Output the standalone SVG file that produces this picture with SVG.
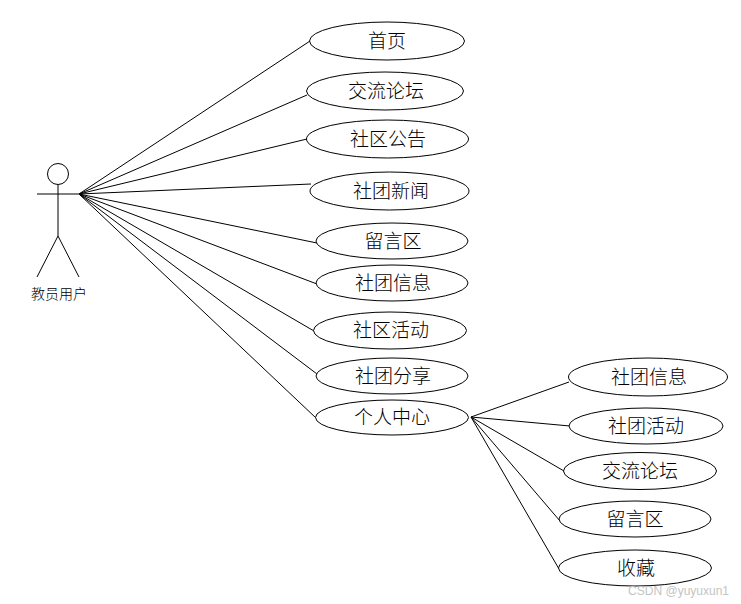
<svg xmlns="http://www.w3.org/2000/svg" width="741" height="604" viewBox="0 0 741 604">
<style>
.s{fill:none;stroke:#000;stroke-width:1}
.e{fill:#fff;stroke:#000;stroke-width:1}
.t{font-family:"Noto Sans CJK SC","Liberation Serif",serif;font-size:19px;font-weight:300;fill:#000;text-anchor:middle}
.a{font-size:14px}
.w{font-family:"Liberation Sans",sans-serif;font-size:12px;fill:#c4c4c4;text-anchor:end}
</style>
<rect width="741" height="604" fill="#fff"/>
<g id="connectors" class="s">
<path d="M79 194L310 41M79 194L307 95M79 194L307 139M79 194L311 184M79 194L317 243M79 194L317 284M79 194L314 331M79 194L317 374M79 194L316 418"/>
<path d="M471 417L569 382M471 417L570 426M471 417L564 471M471 417L560 521M471 417L559 569"/>
</g>
<g id="actor">
<g class="s"><circle cx="58" cy="174" r="10.5"/>
<path d="M58 185V236M37 194H79M58 236L37 277M58 236L79 277"/></g>
<text class="t a" x="59" y="299">教员用户</text>
</g>
<g id="n1"><ellipse class="e" cx="387" cy="41" rx="77.5" ry="19"/><text class="t" x="387" y="48">首页</text></g>
<g id="n2"><ellipse class="e" cx="385" cy="91" rx="78.5" ry="19"/><text class="t" x="386" y="98">交流论坛</text></g>
<g id="n3"><ellipse class="e" cx="387.5" cy="139" rx="81" ry="19"/><text class="t" x="388" y="146">社区公告</text></g>
<g id="n4"><ellipse class="e" cx="389.5" cy="191" rx="79.5" ry="19"/><text class="t" x="391" y="198">社团新闻</text></g>
<g id="n5"><ellipse class="e" cx="392" cy="241" rx="76" ry="18"/><text class="t" x="393" y="248">留言区</text></g>
<g id="n6"><ellipse class="e" cx="392" cy="283" rx="76" ry="18"/><text class="t" x="393" y="290">社团信息</text></g>
<g id="n7"><ellipse class="e" cx="390" cy="330.500" rx="76.500" ry="18.500"/><text class="t" x="391" y="337">社区活动</text></g>
<g id="n8"><ellipse class="e" cx="392" cy="376" rx="76" ry="18"/><text class="t" x="393" y="383">社团分享</text></g>
<g id="n9"><ellipse class="e" cx="392" cy="417.500" rx="76.500" ry="17.500"/><text class="t" x="392" y="424">个人中心</text></g>
<g id="n10"><ellipse class="e" cx="648" cy="377" rx="79.500" ry="19"/><text class="t" x="649" y="384">社团信息</text></g>
<g id="n11"><ellipse class="e" cx="646" cy="426" rx="77" ry="18"/><text class="t" x="646" y="433">社团活动</text></g>
<g id="n12"><ellipse class="e" cx="640" cy="471" rx="76.500" ry="18.500"/><text class="t" x="640" y="478">交流论坛</text></g>
<g id="n13"><ellipse class="e" cx="635" cy="519" rx="76" ry="18"/><text class="t" x="635" y="526">留言区</text></g>
<g id="n14"><ellipse class="e" cx="635" cy="568" rx="76.500" ry="18"/><text class="t" x="636" y="575">收藏</text></g>
<text class="w" x="729" y="595">CSDN @yuyuxun1</text>
</svg>
